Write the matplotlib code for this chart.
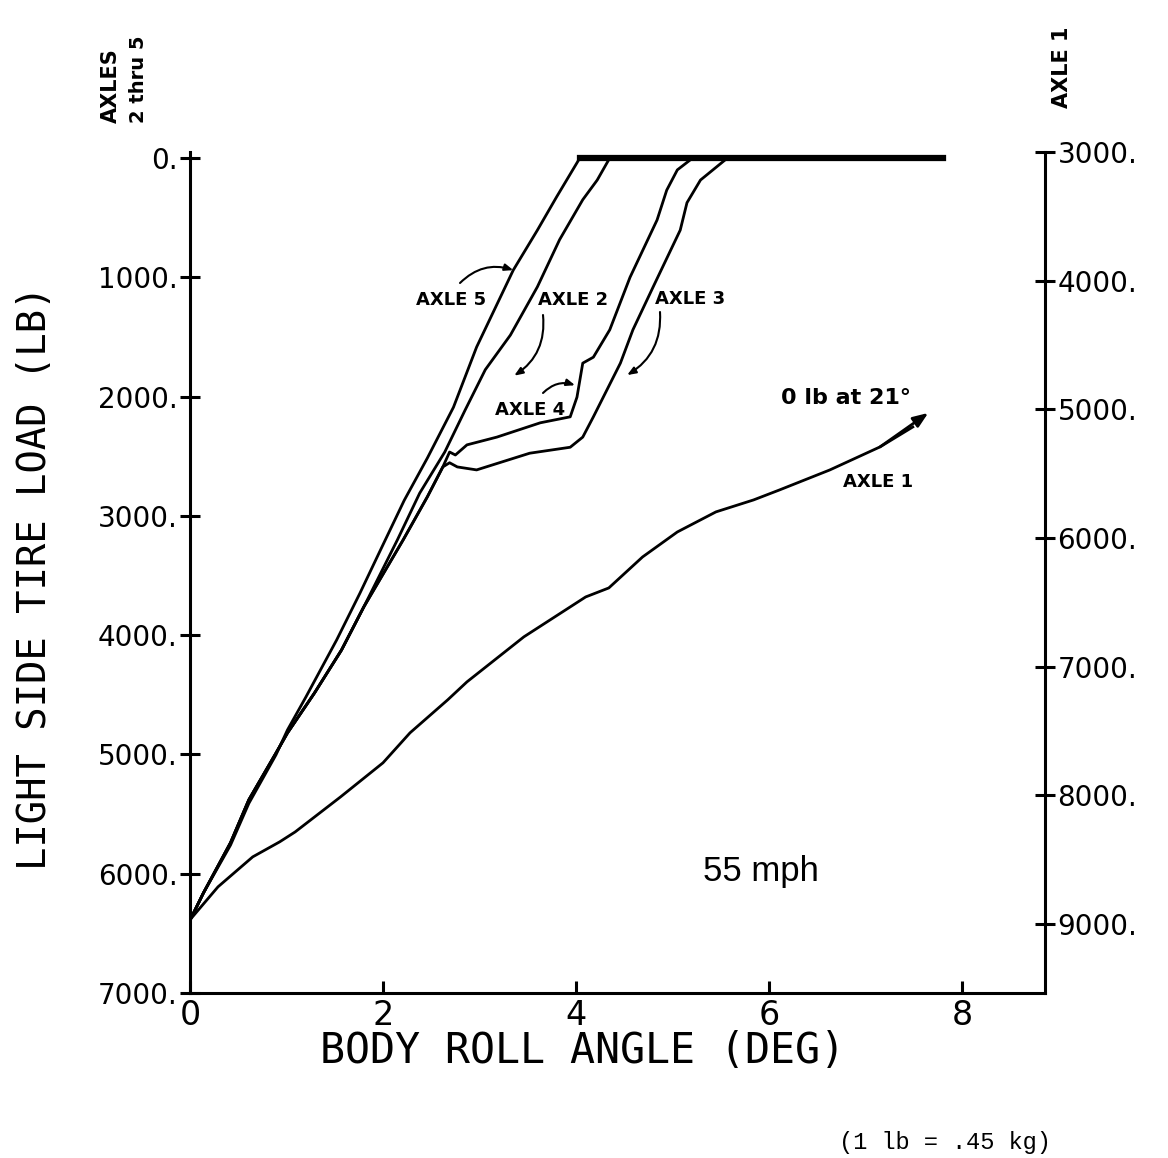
import matplotlib
matplotlib.use("Agg")
import matplotlib.pyplot as plt

W, H, DPI = 1168, 1158, 100

# ---- data (body roll angle in deg, light-side tire load in lb) ----
axle5_deg = [0.00, 0.14, 0.42, 0.61, 0.89, 1.01, 1.20, 1.52, 1.76, 1.96, 2.22, 2.46, 2.73,
             2.97, 3.35, 3.60, 3.80, 4.04, 7.80]
axle5_load = [6390, 6160, 5760, 5410, 5005, 4795, 4520, 4040, 3650, 3310, 2870, 2515, 2090,
              1585, 940, 605, 325, 0, 0]

axle2_deg = [0.00, 0.14, 0.42, 0.61, 0.89, 1.01, 1.29, 1.57, 1.80, 2.15, 2.38, 2.64, 2.85,
             3.06, 3.32, 3.60, 3.83, 4.07, 4.22, 4.35, 7.80]
axle2_load = [6390, 6160, 5740, 5380, 4990, 4820, 4485, 4125, 3765, 3200, 2810, 2465, 2115,
              1775, 1485, 1080, 685, 350, 185, 0, 0]

axle4_deg = [0.00, 0.14, 0.42, 0.61, 0.89, 1.01, 1.29, 1.57, 1.80, 2.21, 2.46, 2.62, 2.69,
             2.75, 2.87, 3.18, 3.63, 3.94, 4.01, 4.07, 4.18, 4.35, 4.56, 4.84, 4.94, 5.05,
             5.21, 7.80]
axle4_load = [6390, 6160, 5740, 5380, 4990, 4820, 4485, 4125, 3765, 3200, 2840, 2590, 2465,
              2490, 2405, 2340, 2220, 2170, 2005, 1720, 1670, 1440, 1000, 520, 270, 100,
              0, 0]

axle3_deg = [0.00, 0.14, 0.42, 0.61, 0.89, 1.01, 1.29, 1.57, 1.80, 2.21, 2.46, 2.62, 2.69,
             2.77, 2.97, 3.52, 3.94, 4.07, 4.18, 4.32, 4.46, 4.59, 4.80, 5.08, 5.15, 5.29,
             5.57, 7.80]
axle3_load = [6390, 6160, 5740, 5380, 4990, 4820, 4485, 4125, 3765, 3200, 2840, 2590, 2555,
              2590, 2615, 2475, 2425, 2340, 2170, 1945, 1720, 1440, 1080, 605, 375, 185,
              0, 0]

# Axle 1 read on the right-hand scale
axle1_deg = [0.00, 0.29, 0.65, 0.93, 1.09, 1.56, 2.00, 2.28, 2.67, 2.87, 3.46, 4.10, 4.34,
             4.69, 5.05, 5.45, 5.84, 6.11, 6.63, 7.15, 7.49, 7.65]
axle1_load = [8967, 8711, 8478, 8361, 8284, 8012, 7747, 7514, 7258, 7118, 6768, 6458, 6388,
              6147, 5953, 5797, 5704, 5626, 5471, 5292, 5137, 5028]

left_ticks = [0, 1000, 2000, 3000, 4000, 5000, 6000, 7000]
left_labels = ["0.", "1000.", "2000.", "3000.", "4000.", "5000.", "6000.", "7000."]
right_ticks = [3000, 4000, 5000, 6000, 7000, 8000, 9000]
right_labels = ["3000.", "4000.", "5000.", "6000.", "7000.", "8000.", "9000."]
x_ticks = [0, 2, 4, 6, 8]
x_labels = ["0", "2", "4", "6", "8"]


def fx(px):
    return px / W


def fy(py):
    return 1 - py / H


fig = plt.figure(figsize=(W / DPI, H / DPI), dpi=DPI)
fig.patch.set_facecolor("white")
ax = fig.add_axes([fx(190), fy(993), fx(1045) - fx(190), fy(152) - fy(993)])
ax.set_xlim(0, 8.86)
ax.set_ylim(7000, -50)
ax2 = ax.twinx()
ax2.set_ylim(9536, 3000)

for a in (ax, ax2):
    a.spines["top"].set_visible(False)
    for s in a.spines.values():
        s.set_linewidth(2.2)
ax.spines["right"].set_visible(False)
ax2.spines["left"].set_visible(False)
ax2.spines["bottom"].set_visible(False)

tick_font = dict(family="DejaVu Sans", size=20)
ax.set_yticks(left_ticks)
ax.set_yticklabels(left_labels, fontdict=tick_font)
ax.set_xticks(x_ticks)
ax.set_xticklabels(x_labels, fontdict=dict(family="DejaVu Sans", size=24))
ax2.set_yticks(right_ticks)
ax2.set_yticklabels(right_labels, fontdict=tick_font)
ax.tick_params(axis="y", direction="inout", length=14, width=2.2, pad=2)
ax.tick_params(axis="x", direction="in", length=9, width=2.2, pad=4)
ax2.tick_params(axis="y", direction="inout", length=14, width=2.2, pad=2)

lw = 2.0
ax.plot(axle5_deg, axle5_load, color="black", lw=lw, solid_joinstyle="round")
ax.plot(axle2_deg, axle2_load, color="black", lw=lw, solid_joinstyle="round")
ax.plot(axle4_deg, axle4_load, color="black", lw=lw, solid_joinstyle="round")
ax.plot(axle3_deg, axle3_load, color="black", lw=lw, solid_joinstyle="round")
ax.plot([axle5_deg[-2], axle5_deg[-1]], [axle5_load[-2], axle5_load[-1]], color="black", lw=4.5)

ax2.plot(axle1_deg[:-1], axle1_load[:-1], color="black", lw=lw, solid_joinstyle="round")
ax2.annotate("", xy=(axle1_deg[-1], axle1_load[-1]), xytext=(axle1_deg[-3], axle1_load[-3]),
             arrowprops=dict(arrowstyle="-|>,head_length=0.9,head_width=0.35", color="black",
                             lw=lw, shrinkA=0, shrinkB=0))

# axis titles
fig.text(fx(35), fy(578), "LIGHT SIDE TIRE LOAD (LB)", rotation=90, ha="center", va="center",
         family="DejaVu Sans Mono", fontsize=28)
fig.text(fx(582), fy(1051), "BODY ROLL ANGLE (DEG)", ha="center", va="center",
         family="DejaVu Sans Mono", fontsize=30)
fig.text(fx(111), fy(123), "AXLES", rotation=90, ha="center", va="bottom",
         family="DejaVu Sans", fontsize=15, fontweight="bold")
fig.text(fx(139), fy(123), "2 thru 5", rotation=90, ha="center", va="bottom",
         family="DejaVu Sans", fontsize=14, fontweight="bold")
fig.text(fx(1062), fy(108), "AXLE 1", rotation=90, ha="center", va="bottom",
         family="DejaVu Sans", fontsize=15, fontweight="bold")

lab = dict(family="DejaVu Sans", fontsize=13, fontweight="bold", ha="center", va="center")
fig.text(fx(451), fy(300), "AXLE 5", **lab)
fig.text(fx(573), fy(300), "AXLE 2", **lab)
fig.text(fx(690), fy(299), "AXLE 3", **lab)
fig.text(fx(530), fy(410), "AXLE 4", **lab)
fig.text(fx(878), fy(482), "AXLE 1", **lab)
fig.text(fx(846), fy(398), "0 lb at 21°", family="DejaVu Sans", fontsize=16,
         fontweight="bold", ha="center", va="center")
fig.text(fx(761), fy(872), "55 mph", family="Liberation Sans", fontsize=25,
         ha="center", va="center")
fig.text(fx(945), fy(1142), "(1 lb = .45 kg)", family="Liberation Mono", fontsize=17,
         ha="center", va="center")

arr = dict(arrowstyle="-|>,head_length=0.5,head_width=0.2", color="black", lw=1.5,
           shrinkA=0, shrinkB=0)
ax.annotate("", xy=(axle5_deg[14], axle5_load[14]), xytext=(fx(460), fy(283)),
            textcoords="figure fraction",
            arrowprops=dict(connectionstyle="arc3,rad=-0.3", **arr))
ax.annotate("", xy=(axle2_deg[13] + 0.3, axle2_load[13] + 50), xytext=(fx(543), fy(315)),
            textcoords="figure fraction",
            arrowprops=dict(connectionstyle="arc3,rad=-0.3", **arr))
ax.annotate("", xy=(axle3_deg[20] + 0.07, axle3_load[20] + 100), xytext=(fx(660), fy(312)),
            textcoords="figure fraction",
            arrowprops=dict(connectionstyle="arc3,rad=-0.3", **arr))
ax.annotate("", xy=(axle4_deg[18] - 0.02, axle4_load[18] - 100), xytext=(fx(543), fy(393)),
            textcoords="figure fraction",
            arrowprops=dict(connectionstyle="arc3,rad=-0.3", **arr))

fig.savefig("out.png", dpi=DPI, facecolor="white")
